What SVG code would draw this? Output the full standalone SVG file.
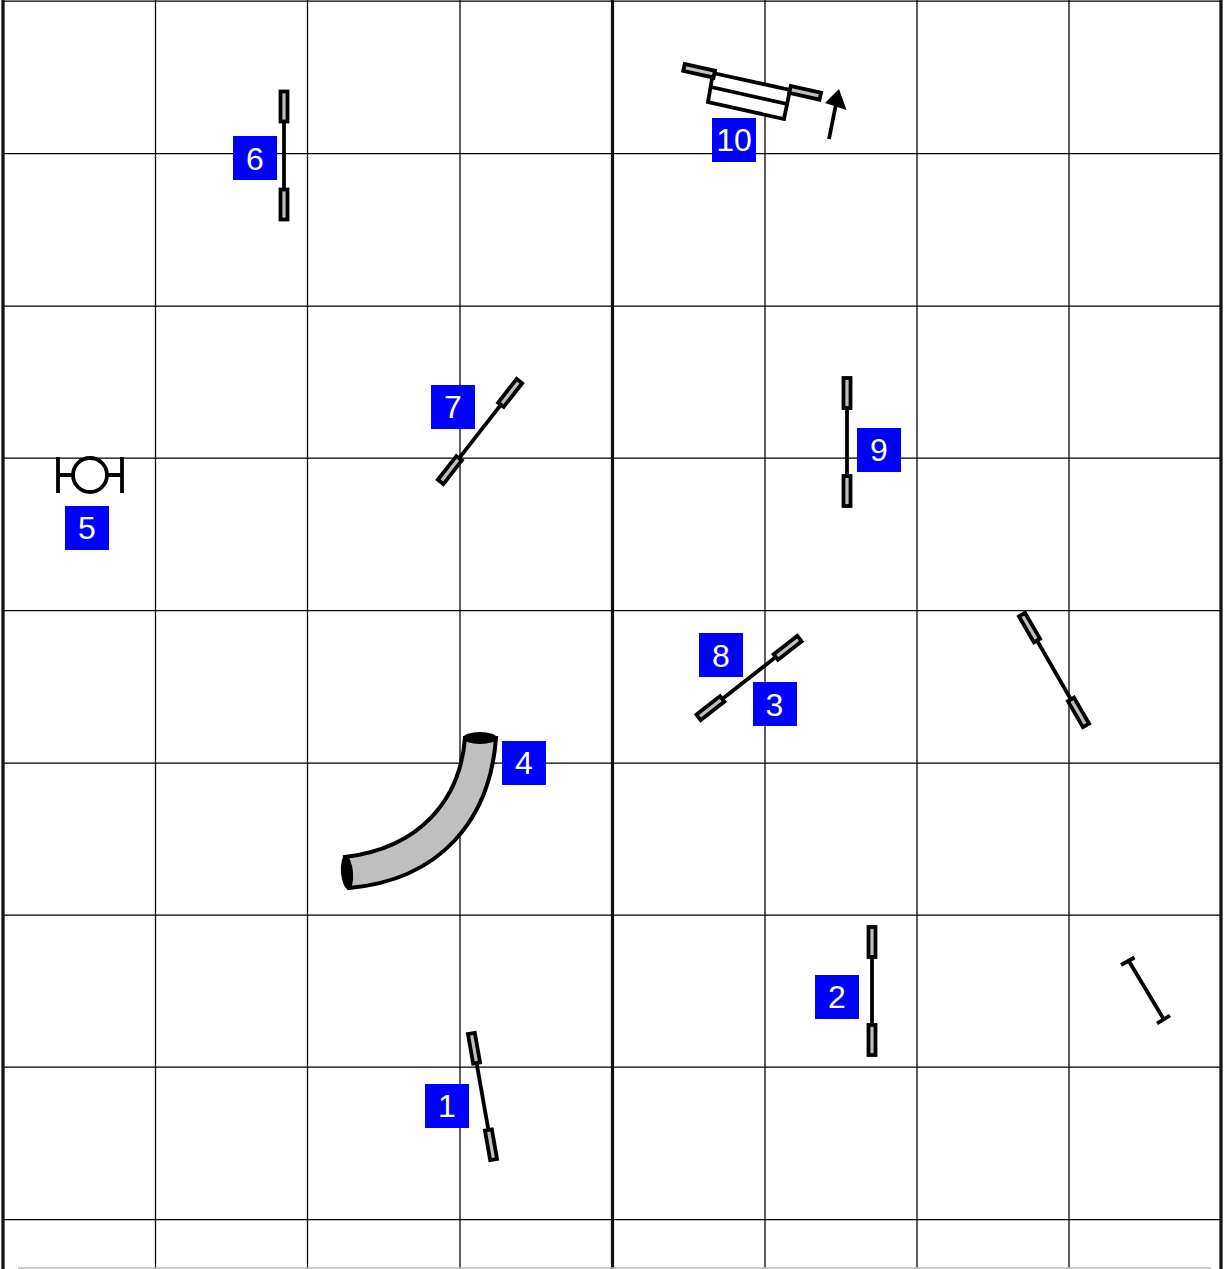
<svg xmlns="http://www.w3.org/2000/svg" width="1225" height="1269" viewBox="0 0 1225 1269">
<defs>
<style>
.g{stroke:#000;stroke-width:1.250;fill:none}
.k{stroke:#000;stroke-width:3.800;fill:none}
.w{fill:#bfbfbf;stroke:#000;stroke-width:3.800}
.b{fill:#0000ff}
.t{font-family:"Liberation Sans",Arial,sans-serif;font-size:32px;fill:#fff;text-anchor:middle}
</style>
<g id="gate"><line class="k" x1="0" y1="-36" x2="0" y2="36"/><rect class="w" x="-3.500" y="-64" width="7" height="30"/><rect class="w" x="-3.500" y="34" width="7" height="30"/></g>
<g id="lab"><rect class="b" x="-22" y="-22" width="44" height="44"/></g>
</defs>
<rect width="1225" height="1269" fill="#fff"/>
<g id="grid">
<path class="g" d="M155.500,0V1269M307.500,0V1269M460,0V1269M765,0V1269M917,0V1269M1069,0V1269"/>
<path class="g" d="M3,1H1221M3,153.500H1221M3,306H1221M3,458H1221M3,610.500H1221M3,763H1221M3,915H1221M3,1067H1221M3,1219.500H1221"/>
<path d="M3,0V1269M612.500,0V1269M1221,0V1269" stroke="#111" stroke-width="3.200" fill="none"/>
<path d="M18,1268H1211" stroke="#bbb" stroke-width="1.500" fill="none"/>
</g>
<g id="node-6"><use href="#gate" transform="translate(284,155.500)"/><use href="#lab" x="255" y="158"/><text class="t" x="255" y="169.500">6</text></g>
<g id="node-9"><use href="#gate" transform="translate(847,442)"/><use href="#lab" x="879" y="450"/><text class="t" x="879" y="461">9</text></g>
<g id="node-2"><use href="#gate" transform="translate(872,991)"/><use href="#lab" x="837" y="997"/><text class="t" x="837" y="1007.500">2</text></g>
<g id="node-1"><use href="#gate" transform="translate(482.500,1096.500) rotate(-10)"/><use href="#lab" x="447" y="1106"/><text class="t" x="447" y="1117">1</text></g>
<g id="node-7"><use href="#gate" transform="translate(480,431.500) rotate(38)"/><use href="#lab" x="453" y="407"/><text class="t" x="453" y="417.500">7</text></g>
<g id="node-8-3"><use href="#gate" transform="translate(749,678) rotate(52)"/><use href="#lab" x="721" y="655"/><text class="t" x="721" y="666.500">8</text><use href="#lab" x="775" y="704"/><text class="t" x="774.500" y="715.500">3</text></g>
<g id="gate-right"><use href="#gate" transform="translate(1054,670) rotate(-30)"/></g>
<g id="tick"><path class="k" d="M1128.500,960.500L1163,1018M1121,965L1134.500,957.500M1157,1023.500L1170,1015.500"/></g>
<g id="node-5"><circle class="k" cx="90" cy="475" r="17"/><path class="k" d="M58,457V493M122,457V493M58,475H73M107,475H122"/><use href="#lab" x="87" y="528"/><text class="t" x="87" y="538.500">5</text></g>
<g id="node-4"><path d="M465,738C460,800 420,848 345,857L349,888C440,880 490,820 496,738Z" fill="#bfbfbf" stroke="#000" stroke-width="4"/><ellipse cx="480" cy="738" rx="17" ry="6" fill="#000"/><ellipse cx="347" cy="872.500" rx="6" ry="17" fill="#000" transform="rotate(-5 347 872.500)"/><use href="#lab" x="524" y="763"/><text class="t" x="524" y="774">4</text></g>
<g id="node-10"><path d="M713,73L790,90L784,119L708,102ZM711,87L787,104" fill="#fff" stroke="#000" stroke-width="3.800"/><rect class="w" x="0" y="-3.500" width="31" height="7" transform="translate(684,67.500) rotate(12.500)"/><rect class="w" x="0" y="-3.500" width="31" height="7" transform="translate(790,89.500) rotate(12.500)"/><use href="#lab" x="734" y="140"/><text class="t" x="734" y="151">10</text></g>
<g id="connectors"><line class="k" x1="829" y1="139" x2="836" y2="104"/><polygon points="839,89 825,103 846.500,110" fill="#000"/></g>
</svg>
